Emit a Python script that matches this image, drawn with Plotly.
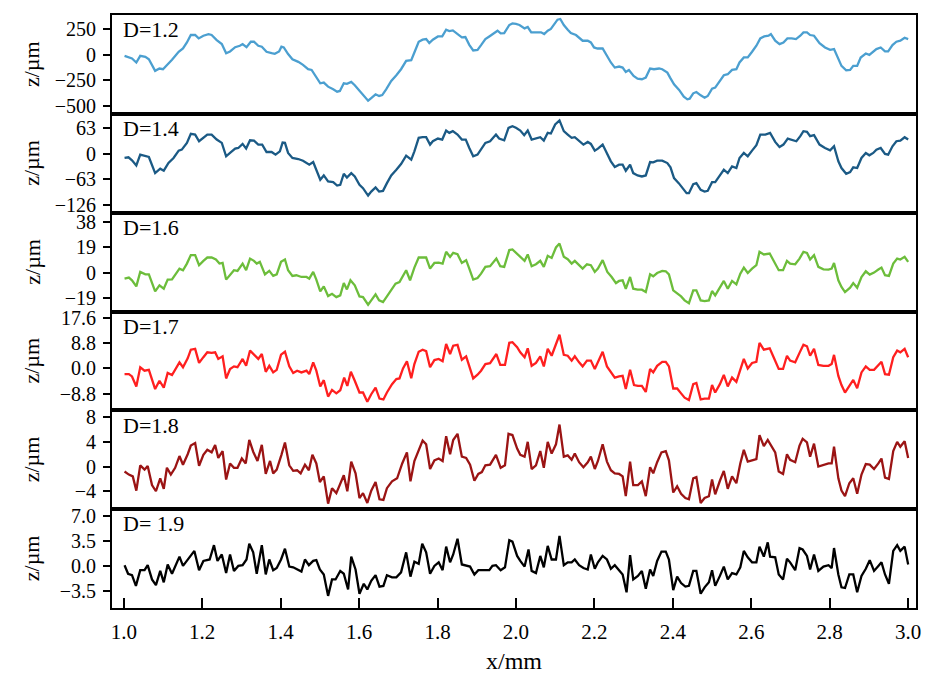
import plotly.graph_objects as go
from plotly.subplots import make_subplots

# Surface profiles z(x) for increasing fractal dimension D; (x in mm, z in µm)
D12 = [(1.002,-10),(1.021,-36),(1.032,-75),(1.042,-10),(1.055,-20),(1.064,-43),(1.080,-157),(1.091,-134),
       (1.100,-141),(1.110,-102),(1.123,-49),(1.140,30),(1.151,62),(1.161,121),(1.171,194),(1.182,194),
       (1.191,161),(1.203,187),(1.216,203),(1.224,194),(1.237,144),(1.250,105),(1.261,16),(1.271,33),
       (1.284,75),(1.296,89),(1.303,105),(1.313,75),(1.324,128),(1.332,128),(1.343,89),(1.352,79),
       (1.364,30),(1.377,16),(1.385,10),(1.396,33),(1.402,79),(1.408,72),(1.419,7),(1.430,-43),
       (1.445,-69),(1.457,-98),(1.470,-141),(1.479,-148),(1.491,-223),(1.501,-279),(1.510,-272),
       (1.521,-312),(1.534,-338),(1.544,-361),(1.551,-354),(1.561,-279),(1.569,-285),(1.580,-266),
       (1.589,-298),(1.601,-354),(1.614,-403),(1.623,-449),(1.631,-423),(1.642,-387),(1.651,-403),
       (1.659,-394),(1.669,-338),(1.682,-256),(1.695,-200),(1.707,-141),(1.720,-59),(1.733,-52),
       (1.741,23),(1.752,128),(1.762,148),(1.771,154),(1.779,115),(1.788,148),(1.801,180),(1.812,180),
       (1.822,246),(1.830,233),(1.839,239),(1.851,203),(1.862,171),(1.871,174),(1.881,98),(1.891,43),
       (1.902,49),(1.911,95),(1.922,154),(1.932,180),(1.945,213),(1.953,236),(1.961,210),(1.970,213),
       (1.983,292),(1.991,308),(2.000,302),(2.009,292),(2.022,259),(2.030,272),(2.039,220),(2.051,220),
       (2.064,220),(2.072,203),(2.081,236),(2.089,253),(2.098,302),(2.106,344),(2.113,351),(2.122,292),
       (2.132,246),(2.140,213),(2.153,194),(2.161,171),(2.170,138),(2.183,138),(2.191,121),(2.199,72),
       (2.208,62),(2.221,62),(2.232,-10),(2.242,-75),(2.252,-125),(2.263,-115),(2.272,-125),(2.280,-167),
       (2.288,-148),(2.300,-207),(2.310,-233),(2.321,-239),(2.331,-223),(2.342,-134),(2.352,-141),
       (2.365,-134),(2.373,-141),(2.386,-174),(2.393,-223),(2.403,-289),(2.416,-344),(2.428,-410),
       (2.437,-436),(2.443,-430),(2.452,-377),(2.460,-364),(2.471,-397),(2.481,-420),(2.489,-403),
       (2.500,-331),(2.508,-321),(2.521,-256),(2.530,-200),(2.540,-190),(2.551,-148),(2.562,-141),
       (2.570,-75),(2.581,-26),(2.591,-26),(2.602,30),(2.613,89),(2.623,161),(2.633,180),(2.644,187),
       (2.650,203),(2.661,138),(2.672,105),(2.682,121),(2.692,161),(2.703,161),(2.714,154),(2.725,187),
       (2.733,220),(2.742,220),(2.750,194),(2.760,187),(2.774,115),(2.788,72),(2.801,49),(2.811,56),
       (2.822,-43),(2.830,-108),(2.842,-151),(2.852,-148),(2.860,-108),(2.870,-108),(2.879,-26),
       (2.892,13),(2.901,0),(2.911,30),(2.919,56),(2.930,72),(2.941,33),(2.949,33),(2.960,95),
       (2.970,128),(2.980,138),(2.991,167),(3.000,154)]

D14 = [(1.002,-10.7),(1.012,-9.1),(1.021,-16.5),(1.032,-29),(1.042,-2.5),(1.055,-5),(1.064,-8.3),
       (1.080,-48),(1.093,-37),(1.102,-42),(1.114,-23),(1.127,-10.7),(1.140,7.4),(1.148,9.9),(1.161,26.5),
       (1.171,48.8),(1.182,47),(1.192,30.6),(1.203,38.9),(1.213,47),(1.224,47),(1.237,34.7),(1.250,26.5),
       (1.261,-6.6),(1.271,1.7),(1.284,12.4),(1.292,14),(1.303,24),(1.312,12.4),(1.322,33),(1.332,32.3),
       (1.343,22.3),(1.353,22.3),(1.364,4.1),(1.377,4.1),(1.387,-2.5),(1.398,5.8),(1.405,27.3),
       (1.411,26.5),(1.419,1.7),(1.430,-10.7),(1.445,-13.2),(1.457,-17.4),(1.473,-27.3),(1.483,-20.7),
       (1.491,-39.7),(1.501,-64.5),(1.510,-53.8),(1.521,-68.6),(1.534,-70.3),(1.544,-78.6),(1.552,-76.9),
       (1.561,-49.6),(1.569,-58.7),(1.580,-48),(1.589,-56.3),(1.601,-76.9),(1.610,-85.2),(1.623,-103.4),
       (1.631,-93.5),(1.642,-83.5),(1.651,-93.5),(1.661,-91.8),(1.671,-72.8),(1.682,-53.8),(1.695,-39.7),
       (1.707,-25.6),(1.720,-5),(1.733,-14.9),(1.741,5.8),(1.752,38.9),(1.762,40.5),(1.771,40.5),
       (1.781,22.3),(1.788,30.6),(1.801,37.2),(1.812,34.7),(1.822,57),(1.830,51.3),(1.839,55.4),
       (1.851,47),(1.862,34.7),(1.872,34.7),(1.881,14),(1.891,-6.6),(1.902,-2.5),(1.911,9.9),(1.922,26.5),
       (1.934,30.6),(1.949,47),(1.957,37.2),(1.970,33),(1.981,63.7),(1.991,67.8),(2.000,63.7),
       (2.011,57),(2.021,45.5),(2.030,57),(2.040,34.7),(2.051,37.2),(2.062,40.5),(2.071,32.3),(2.081,51.3),
       (2.089,49.6),(2.100,72),(2.111,81.9),(2.122,55.4),(2.132,47),(2.142,38.9),(2.150,40.5),(2.161,32.3),
       (2.172,22.3),(2.183,28.9),(2.191,24),(2.201,7.4),(2.209,12.4),(2.221,22.3),(2.233,-2.5),(2.242,-19),
       (2.252,-33),(2.263,-27.3),(2.272,-27.3),(2.280,-42.2),(2.291,-27.3),(2.299,-48),(2.310,-53.8),
       (2.321,-56.3),(2.331,-53.8),(2.342,-20.7),(2.350,-21.5),(2.360,-17.4),(2.373,-17.4),(2.386,-23.2),
       (2.394,-33.9),(2.403,-60.4),(2.415,-72.8),(2.426,-85.2),(2.435,-97.6),(2.441,-97.6),(2.452,-75.3),
       (2.460,-72.8),(2.471,-89.3),(2.481,-93.5),(2.489,-91.8),(2.500,-70.3),(2.508,-70.3),(2.520,-53.8),
       (2.530,-39.7),(2.540,-48),(2.551,-31.4),(2.562,-35.6),(2.570,-10.7),(2.581,1.7),(2.591,-6.6),
       (2.602,7.4),(2.613,20.7),(2.623,47),(2.636,47),(2.648,51.3),(2.661,28.9),(2.672,16.5),(2.682,22.3),
       (2.693,37.2),(2.706,32.3),(2.715,30.6),(2.725,43),(2.733,55.4),(2.742,53.8),(2.750,43),(2.760,45.5),
       (2.774,22.3),(2.788,14),(2.801,8.3),(2.811,18.2),(2.822,-19),(2.830,-35.6),(2.842,-49.6),
       (2.852,-45.5),(2.860,-33.9),(2.870,-35.6),(2.881,-10.7),(2.892,1.7),(2.901,-4.1),(2.911,1.7),
       (2.919,9.9),(2.930,14),(2.941,-0.8),(2.949,-2.5),(2.960,18.2),(2.970,30.6),(2.980,32.3),
       (2.991,40.5),(3.000,34.7)]

D16 = [(1.002,-4.6),(1.013,-3.8),(1.021,-5.8),(1.032,-10.4),(1.042,0.5),(1.055,-1.3),(1.064,-1.3),
       (1.080,-14.2),(1.091,-9.6),(1.102,-12.2),(1.112,-5.3),(1.123,-5.1),(1.142,3.0),(1.151,1.8),
       (1.161,6.8),(1.171,13.2),(1.182,13.2),(1.192,5.6),(1.203,8.9),(1.213,11.4),(1.224,11.4),(1.235,9.9),
       (1.244,6.8),(1.252,7.3),(1.261,-5.3),(1.271,-1.3),(1.281,1.8),(1.290,1.3),(1.303,6.8),(1.312,1.8),
       (1.322,10.6),(1.332,8.9),(1.339,6.8),(1.347,8.1),(1.360,-1.3),(1.371,1.3),(1.381,-2.5),(1.390,-1.3),
       (1.401,8.1),(1.411,9.9),(1.419,1.8),(1.430,-2.5),(1.440,-2.0),(1.453,-3.3),(1.466,-3.3),(1.473,-4.6),
       (1.483,0.5),(1.491,-5.3),(1.501,-14.2),(1.510,-10.4),(1.521,-17.7),(1.531,-16.0),(1.542,-18.5),
       (1.552,-17.2),(1.561,-7.9),(1.569,-12.7),(1.578,-5.8),(1.589,-9.6),(1.601,-18.0),(1.610,-18.5),
       (1.623,-24.3),(1.631,-21.0),(1.642,-16.5),(1.651,-21.0),(1.661,-22.3),(1.671,-18.0),(1.682,-12.7),
       (1.693,-8.4),(1.703,-7.1),(1.712,-2.8),(1.720,1.8),(1.730,-5.8),(1.741,3.8),(1.752,11.4),(1.762,11.4),
       (1.771,11.4),(1.781,3.0),(1.792,7.3),(1.803,7.6),(1.813,6.8),(1.822,15.7),(1.832,11.9),(1.840,14.9),
       (1.851,13.9),(1.862,7.3),(1.873,9.4),(1.881,3.0),(1.891,-5.3),(1.902,-4.1),(1.911,-0.8),(1.922,4.3),
       (1.934,4.8),(1.950,10.6),(1.960,4.8),(1.970,4.3),(1.983,17.0),(1.991,17.5),(2.003,14.4),
       (2.011,11.9),(2.022,8.9),(2.030,13.7),(2.040,4.8),(2.051,6.3),(2.062,8.9),(2.071,4.3),(2.081,12.7),
       (2.091,11.1),(2.102,19.0),(2.111,22.0),(2.122,11.9),(2.132,10.1),(2.142,6.8),(2.150,8.9),(2.161,5.6),
       (2.170,3.0),(2.181,6.3),(2.191,5.6),(2.201,0.5),(2.209,3.0),(2.221,9.4),(2.233,0.5),(2.244,-3.3),
       (2.255,-7.9),(2.263,-6.3),(2.272,-5.8),(2.280,-12.2),(2.291,-3.3),(2.299,-12.2),(2.310,-12.9),
       (2.321,-12.9),(2.331,-14.7),(2.342,-1.3),(2.350,-2.8),(2.360,-0.3),(2.373,1.3),(2.382,1.0),
       (2.390,-1.3),(2.401,-13.4),(2.411,-15.5),(2.421,-18.0),(2.430,-21.0),(2.441,-23.1),(2.452,-13.4),
       (2.460,-13.4),(2.471,-21.0),(2.481,-21.5),(2.492,-21.0),(2.500,-13.9),(2.508,-17.2),(2.520,-11.4),
       (2.530,-6.3),(2.540,-12.2),(2.551,-6.3),(2.562,-8.9),(2.572,-0.8),(2.581,3.8),(2.591,-0.3),
       (2.602,3.0),(2.613,5.6),(2.621,15.7),(2.632,13.7),(2.647,14.4),(2.657,8.9),(2.670,1.8),(2.681,1.8),
       (2.691,8.9),(2.699,6.8),(2.712,6.3),(2.723,10.6),(2.733,15.7),(2.742,14.9),(2.750,9.9),(2.760,13.2),
       (2.771,4.3),(2.784,2.5),(2.797,2.3),(2.805,3.0),(2.811,7.3),(2.822,-5.8),(2.830,-10.9),(2.839,-14.7),
       (2.852,-11.4),(2.860,-7.9),(2.870,-11.4),(2.881,-3.3),(2.892,1.0),(2.902,-1.5),(2.913,0.0),
       (2.924,2.3),(2.932,3.8),(2.941,-2.0),(2.951,-2.5),(2.962,6.8),(2.972,10.6),(2.980,9.9),(2.991,11.9),
       (3.000,8.1)]

D17 = [(1.002,-2.0),(1.013,-2.0),(1.021,-2.8),(1.032,-6.3),(1.042,0.4),(1.053,-0.8),(1.064,-0.5),
       (1.080,-7.2),(1.091,-4.3),(1.102,-6.7),(1.112,-1.6),(1.123,-2.3),(1.142,2.1),(1.151,0.4),(1.163,3.5),
       (1.171,6.5),(1.182,6.8),(1.192,1.9),(1.203,3.9),(1.213,5.6),(1.224,5.4),(1.233,5.6),(1.241,3.3),
       (1.252,4.2),(1.261,-3.5),(1.271,-0.2),(1.281,0.7),(1.290,0.4),(1.303,3.3),(1.312,0.9),(1.322,6.2),
       (1.332,4.7),(1.343,3.3),(1.352,5.0),(1.362,-1.2),(1.371,0.9),(1.381,-1.4),(1.390,-0.5),(1.401,4.8),
       (1.411,5.8),(1.422,0.7),(1.432,-1.6),(1.442,-0.8),(1.453,-1.4),(1.466,-0.8),(1.473,-2.0),(1.483,2.1),
       (1.491,-0.8),(1.501,-6.3),(1.510,-4.1),(1.521,-9.8),(1.531,-7.5),(1.542,-8.7),(1.552,-7.6),
       (1.562,-3.2),(1.570,-6.1),(1.579,-1.2),(1.589,-4.3),(1.601,-8.4),(1.610,-8.4),(1.621,-11.6),
       (1.631,-9.0),(1.642,-6.7),(1.652,-10.5),(1.662,-10.8),(1.671,-8.4),(1.684,-5.5),(1.695,-3.7),
       (1.703,-3.5),(1.712,0.0),(1.722,2.5),(1.733,-3.4),(1.741,1.5),(1.752,5.8),(1.762,6.5),(1.771,6.0),
       (1.781,0.4),(1.792,2.9),(1.803,3.3),(1.813,2.5),(1.822,8.5),(1.832,5.0),(1.840,7.9),(1.851,8.2),
       (1.862,3.0),(1.873,4.2),(1.883,0.0),(1.891,-3.5),(1.902,-2.2),(1.911,-0.8),(1.922,1.5),(1.934,1.8),
       (1.950,5.0),(1.960,1.2),(1.972,1.2),(1.983,8.9),(1.991,9.1),(2.003,7.4),
       (2.011,5.6),(2.022,3.9),(2.030,7.0),(2.040,0.9),(2.051,1.9),(2.062,4.2),(2.071,0.7),(2.081,6.8),
       (2.091,4.4),(2.102,8.2),(2.111,11.7),(2.122,4.7),(2.132,4.4),(2.142,2.7),(2.150,4.2),(2.161,2.1),
       (2.170,0.7),(2.181,2.7),(2.191,2.7),(2.201,-0.2),(2.209,2.1),(2.221,5.8),(2.232,0.7),(2.244,-1.6),
       (2.252,-3.2),(2.263,-2.8),(2.272,-2.6),(2.280,-7.2),(2.291,-0.5),(2.301,-5.8),(2.311,-6.1),
       (2.321,-6.1),(2.331,-8.2),(2.342,-0.2),(2.350,-1.4),(2.360,0.9),(2.373,2.3),(2.382,2.3),(2.390,0.7),
       (2.401,-7.0),(2.411,-7.0),(2.421,-8.7),(2.430,-10.2),(2.441,-11.0),(2.452,-5.5),(2.460,-5.1),
       (2.471,-10.8),(2.481,-10.5),(2.492,-10.5),(2.500,-5.8),(2.508,-8.4),(2.520,-5.5),(2.530,-2.3),
       (2.540,-6.3),(2.551,-3.2),(2.562,-4.7),(2.572,-0.2),(2.581,3.3),(2.591,0.0),(2.602,1.9),(2.613,2.3),
       (2.621,8.9),(2.632,6.5),(2.647,7.0),(2.657,3.9),(2.670,-0.2),(2.681,-0.2),(2.691,4.4),(2.699,2.7),
       (2.712,2.1),(2.723,5.4),(2.733,8.2),(2.742,7.7),(2.750,4.4),(2.760,6.8),(2.771,1.2),(2.784,0.9),
       (2.797,0.9),(2.805,1.5),(2.811,4.7),(2.822,-2.6),(2.830,-5.8),(2.839,-8.4),(2.852,-5.8),(2.860,-4.0),
       (2.870,-6.9),(2.881,-1.4),(2.892,0.7),(2.902,-0.5),(2.913,-0.5),(2.924,1.2),(2.932,2.3),(2.941,-2.0),
       (2.951,-2.2),(2.962,3.9),(2.972,6.2),(2.980,5.6),(2.991,6.8),(3.000,3.9)]

D18 = [(1.002,-0.8),(1.013,-1.3),(1.023,-1.6),(1.032,-3.9),(1.042,0.2),(1.053,-0.5),(1.061,0.1),
       (1.072,-3.0),(1.082,-4.0),(1.093,-1.9),(1.102,-3.6),(1.110,-0.2),(1.120,-1.3),(1.131,-0.2),
       (1.142,1.7),(1.151,0.3),(1.163,2.0),(1.171,3.4),(1.182,3.8),(1.192,0.1),(1.203,1.9),(1.213,2.7),
       (1.224,2.3),(1.233,3.5),(1.241,1.4),(1.252,2.5),(1.261,-2.1),(1.271,0.5),(1.281,-0.2),(1.290,-0.2),
       (1.301,1.3),(1.311,0.5),(1.320,4.3),(1.330,2.4),(1.341,0.9),(1.352,3.5),(1.362,-1.2),(1.373,0.9),
       (1.381,-1.1),(1.390,-0.5),(1.402,1.9),(1.411,3.9),(1.422,0.2),(1.432,-0.7),(1.442,-0.6),(1.451,-1.1),
       (1.462,0.3),(1.472,-0.6),(1.481,1.9),(1.491,0.5),(1.500,-2.5),(1.510,-1.6),(1.521,-6.0),(1.531,-3.5),
       (1.542,-4.3),(1.552,-2.9),(1.561,-1.4),(1.570,-4.0),(1.580,0.8),(1.591,-1.1),(1.601,-5.1),
       (1.610,-4.3),(1.621,-5.9),(1.631,-3.9),(1.642,-2.5),(1.652,-5.3),(1.662,-5.4),(1.671,-3.5),
       (1.684,-2.4),(1.697,-1.9),(1.710,0.5),(1.722,2.3),(1.731,-2.4),(1.741,0.9),(1.752,2.7),(1.762,4.2),
       (1.771,3.6),(1.781,-0.4),(1.792,1.0),(1.803,1.3),(1.813,0.9),(1.822,4.9),(1.832,2.0),(1.840,4.3),
       (1.851,5.3),(1.862,1.6),(1.873,1.4),(1.883,0.3),(1.894,-2.3),(1.904,-1.2),(1.913,-0.9),(1.922,0.2),
       (1.934,0.3),(1.949,1.9),(1.961,-0.2),(1.972,0.2),(1.981,5.3),(1.991,5.1),(2.003,2.9),
       (2.011,1.9),(2.022,1.6),(2.030,4.0),(2.040,-0.4),(2.051,0.2),(2.062,2.5),(2.071,-0.2),(2.081,4.0),
       (2.091,2.1),(2.102,3.6),(2.111,6.8),(2.122,1.6),(2.132,1.8),(2.142,1.1),(2.150,2.1),(2.161,0.7),
       (2.172,-0.1),(2.183,0.7),(2.191,1.6),(2.201,-0.4),(2.209,0.9),(2.221,3.6),(2.232,0.8),(2.242,-0.6),
       (2.252,-1.1),(2.263,-1.2),(2.272,-1.6),(2.280,-4.8),(2.291,0.8),(2.299,-3.0),(2.311,-3.0),
       (2.321,-2.4),(2.331,-4.8),(2.342,-0.1),(2.350,-1.1),(2.360,0.7),(2.371,2.3),(2.382,2.5),(2.390,1.0),
       (2.401,-4.2),(2.411,-3.2),(2.421,-4.4),(2.432,-5.1),(2.441,-5.3),(2.452,-1.9),(2.460,-1.7),
       (2.471,-5.9),(2.481,-5.1),(2.492,-4.8),(2.500,-2.1),(2.508,-4.5),(2.520,-2.3),(2.530,-0.7),
       (2.540,-3.6),(2.551,-1.6),(2.562,-2.7),(2.572,0.5),(2.581,2.7),(2.591,0.8),(2.602,1.0),(2.613,1.2),
       (2.621,5.1),(2.632,3.3),(2.642,4.3),(2.648,3.7),(2.661,2.3),(2.670,-0.8),(2.681,-1.2),(2.691,2.0),
       (2.699,1.1),(2.712,0.7),(2.723,3.4),(2.731,4.5),(2.742,3.9),(2.750,1.6),(2.760,3.7),(2.771,0.0),
       (2.784,0.3),(2.797,0.5),(2.805,0.5),(2.811,3.2),(2.822,-1.9),(2.830,-3.9),(2.839,-4.8),(2.850,-2.7),
       (2.860,-1.9),(2.870,-4.4),(2.881,-1.3),(2.892,0.4),(2.902,0.3),(2.913,-0.4),(2.924,0.5),(2.932,1.3),
       (2.941,-1.8),(2.951,-2.0),(2.962,2.5),(2.972,4.0),(2.980,3.2),(2.991,4.1),(3.000,1.4)]

D19 = [(1.002,0.1),(1.011,-1.1),(1.021,-1.3),(1.031,-2.8),(1.042,-0.6),(1.053,-0.6),(1.061,0.1),
       (1.072,-1.9),(1.082,-2.7),(1.093,-0.7),(1.102,-2.3),(1.112,0.2),(1.123,-1.1),(1.142,1.3),(1.151,0.0),
       (1.163,0.9),(1.180,2.1),(1.192,-0.6),(1.203,0.7),(1.219,0.9),(1.230,2.9),(1.239,0.7),(1.250,1.6),
       (1.261,-1.0),(1.271,1.6),(1.281,-0.7),(1.292,0.0),(1.303,0.1),(1.313,0.9),(1.320,3.1),(1.330,1.9),
       (1.339,-1.1),(1.352,2.9),(1.362,-1.2),(1.371,0.9),(1.381,-0.6),(1.390,-0.3),(1.401,0.9),(1.411,2.4),
       (1.422,-0.1),(1.432,-0.2),(1.453,-0.8),(1.462,0.9),(1.472,0.1),(1.483,0.7),(1.491,0.8),(1.500,-0.5),
       (1.510,-1.2),(1.521,-4.2),(1.531,-1.9),(1.540,-1.9),(1.552,-0.7),(1.561,-1.1),(1.572,-3.3),
       (1.580,1.3),(1.591,-0.5),(1.601,-3.9),(1.612,-2.5),(1.621,-3.3),(1.631,-2.1),(1.642,-1.3),
       (1.652,-2.9),(1.662,-2.8),(1.671,-1.3),(1.684,-1.6),(1.695,-1.6),(1.707,-0.9),(1.720,1.9),
       (1.731,-1.5),(1.741,0.6),(1.752,0.3),(1.761,3.1),(1.771,1.9),(1.781,-1.1),(1.792,0.0),(1.803,0.5),
       (1.813,-0.6),(1.822,2.7),(1.832,0.5),(1.840,1.6),(1.851,3.8),(1.862,0.2),(1.873,0.0),(1.883,-0.1),
       (1.894,-1.2),(1.904,-0.6),(1.932,-0.6),(1.940,0.0),(1.949,0.1),(1.961,-0.6),(1.972,-0.2),(1.983,3.6),
       (1.991,3.4),(2.003,1.4),
       (2.011,0.7),(2.022,-0.1),(2.032,2.3),(2.040,-0.7),(2.051,-1.0),(2.062,1.4),(2.071,-0.2),(2.081,2.8),
       (2.091,0.9),(2.102,0.9),(2.111,4.2),(2.122,0.1),(2.132,0.5),(2.142,0.5),(2.150,0.9),(2.161,0.1),
       (2.172,-0.3),(2.183,-0.5),(2.191,1.6),(2.201,-0.4),(2.209,0.5),(2.221,1.4),(2.232,0.9),(2.242,-0.4),
       (2.252,0.1),(2.263,-0.6),(2.272,-1.2),(2.282,-3.7),(2.291,1.5),(2.299,-1.9),(2.311,-1.4),
       (2.321,-0.7),(2.331,-3.2),(2.342,-0.5),(2.350,-1.4),(2.360,0.7),(2.371,2.0),(2.382,2.0),(2.390,0.9),
       (2.401,-3.4),(2.411,-1.5),(2.421,-2.4),(2.432,-2.9),(2.441,-2.8),(2.452,-0.7),(2.460,-0.7),
       (2.471,-3.9),(2.481,-3.0),(2.492,-2.3),(2.500,-0.6),(2.508,-2.8),(2.520,-1.4),(2.530,-0.1),
       (2.540,-1.9),(2.551,-1.0),(2.562,-1.2),(2.572,-0.2),(2.581,2.1),(2.591,1.2),(2.602,0.5),(2.613,0.5),
       (2.621,2.7),(2.632,1.3),(2.642,3.3),(2.648,1.3),(2.661,1.2),(2.670,-1.2),(2.681,-1.9),(2.691,1.0),
       (2.699,0.5),(2.712,-0.6),(2.723,2.5),(2.731,2.3),(2.742,1.4),(2.750,-0.5),(2.760,1.6),(2.771,-0.7),
       (2.784,-0.1),(2.797,0.1),(2.805,-0.3),(2.811,2.5),(2.822,-1.2),(2.830,-3.0),(2.839,-3.1),
       (2.850,-1.2),(2.860,-1.2),(2.870,-3.7),(2.881,-1.4),(2.892,-0.4),(2.902,0.8),(2.913,-0.7),
       (2.924,0.0),(2.932,0.5),(2.941,-1.2),(2.951,-2.5),(2.962,2.1),(2.972,2.9),(2.980,2.1),(2.991,2.7),
       (3.000,0.2)]

labels = ["D=1.2", "D=1.4", "D=1.6", "D=1.7", "D=1.8", "D= 1.9"]
profiles = [D12, D14, D16, D17, D18, D19]
colors = ["#4b9fd0", "#1b5a85", "#6cbd3b", "#ff1f1f", "#9b1414", "#000000"]

# y-axis ticks per panel
y_tickvals = [[-500, -250, 0, 250], [-126, -63, 0, 63], [-19, 0, 19, 38],
              [-8.8, 0, 8.8, 17.6], [-4, 0, 4, 8], [-3.5, 0, 3.5, 7.0]]
y_ticktext = [["\u2212500", "\u2212250", "0", "250"], ["\u2212126", "\u221263", "0", "63"],
              ["\u221219", "0", "19", "38"], ["\u22128.8", "0.0", "8.8", "17.6"],
              ["\u22124", "0", "4", "8"], ["\u22123.5", "0.0", "3.5", "7.0"]]
y_ranges = [[-578, 390], [-145.6, 98.2], [-29.4, 45.3], [-14.6, 19.8], [-6.9, 9.1], [-5.9, 7.95]]

x_tickvals = [1.0, 1.2, 1.4, 1.6, 1.8, 2.0, 2.2, 2.4, 2.6, 2.8, 3.0]
x_ticktext = ["1.0", "1.2", "1.4", "1.6", "1.8", "2.0", "2.2", "2.4", "2.6", "2.8", "3.0"]
x_range = [0.97, 3.02]

FONT = "Liberation Serif, Times New Roman, serif"

fig = make_subplots(rows=6, cols=1, vertical_spacing=0)

for i, (prof, col) in enumerate(zip(profiles, colors)):
    r = i + 1
    xs = [p[0] for p in prof]
    zs = [p[1] for p in prof]
    fig.add_trace(go.Scatter(x=xs, y=zs, mode="lines", line=dict(color=col, width=2.3),
                             showlegend=False, hoverinfo="skip"), row=r, col=1)
    fig.update_yaxes(range=y_ranges[i], tickvals=y_tickvals[i], ticktext=y_ticktext[i],
                     ticks="outside", ticklen=7, tickwidth=1.5, tickcolor="black",
                     ticklabelstandoff=3,
                     showline=True, mirror=True, linewidth=2, linecolor="black",
                     showgrid=False, zeroline=False,
                     tickfont=dict(family=FONT, size=20, color="black"), row=r, col=1)
    last = (r == 6)
    fig.update_xaxes(range=x_range, showline=True, mirror=True, linewidth=2, linecolor="black",
                     showgrid=False, zeroline=False,
                     tickvals=x_tickvals, ticktext=x_ticktext,
                     ticks="inside" if last else "", ticklen=10, tickwidth=1.5, tickcolor="black",
                     showticklabels=last, ticklabelstandoff=4,
                     tickfont=dict(family=FONT, size=21, color="black"), row=r, col=1)

    # panel label and y title
    yd = fig.layout["yaxis" if r == 1 else f"yaxis{r}"].domain
    fig.add_annotation(text=labels[i], xref="x domain" if r == 1 else f"x{r} domain",
                       yref="y domain" if r == 1 else f"y{r} domain",
                       x=0.011, y=0.85, xanchor="left", yanchor="middle", showarrow=False,
                       font=dict(family=FONT, size=22, color="black"))
    fig.add_annotation(text="z/\u00b5m", xref="paper", yref="paper",
                       x=-0.1, y=(yd[0] + yd[1]) / 2, xanchor="center", yanchor="middle",
                       textangle=-90, showarrow=False,
                       font=dict(family=FONT, size=22, color="black"))

fig.add_annotation(text="x/mm", xref="paper", yref="paper", x=0.5, y=-0.09,
                   xanchor="center", yanchor="middle", showarrow=False,
                   font=dict(family=FONT, size=24, color="black"))

fig.update_layout(width=931, height=677, margin=dict(l=112, r=13, t=10, b=69),
                  plot_bgcolor="white", paper_bgcolor="white")

fig.write_html("out.html")
